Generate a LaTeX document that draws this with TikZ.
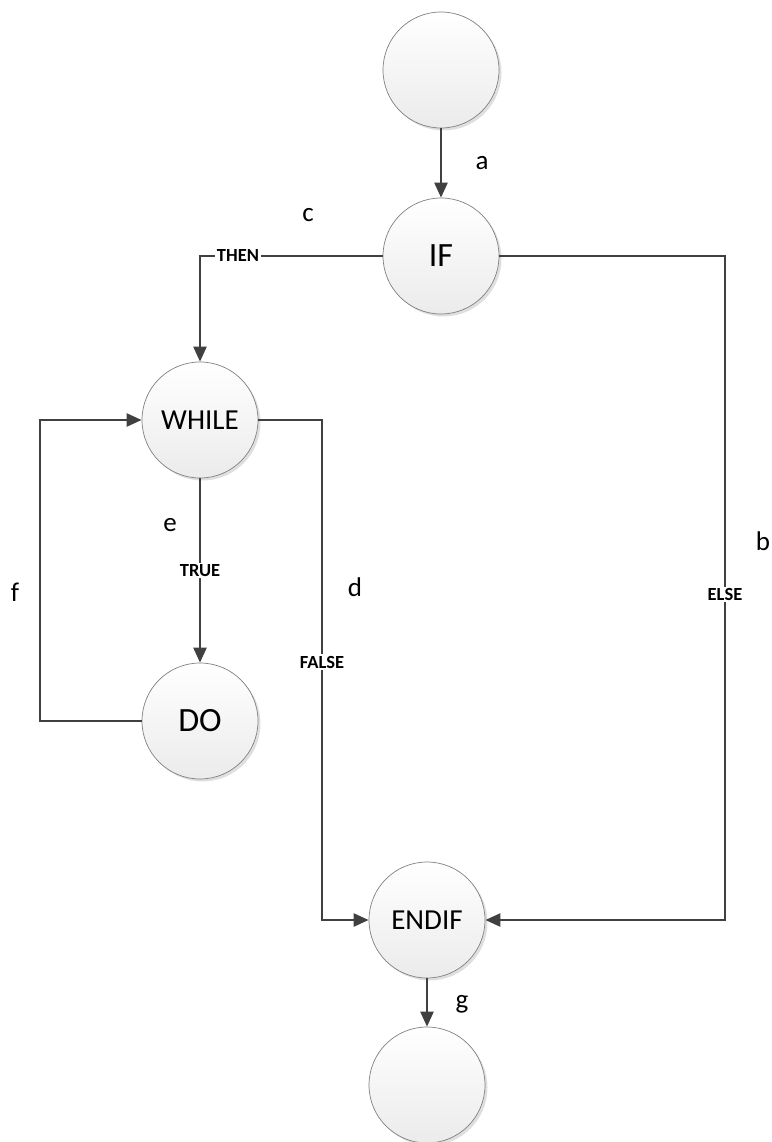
\documentclass[tikz,border=0pt]{standalone}
\usepackage{fontspec}
\setmainfont{Carlito}
\usetikzlibrary{arrows.meta,shadows}
\definecolor{linec}{HTML}{404040}
\definecolor{circc}{HTML}{808080}
\definecolor{fillb}{HTML}{EBEBEB}
\tikzset{
  state/.style={circle, minimum size=116pt, inner sep=0pt, draw=circc, line width=0.7pt,
    top color=white, bottom color=fillb,
    drop shadow={shadow xshift=2.5pt, shadow yshift=-2.5pt, opacity=0.25, fill=gray}},
  bigtxt/.style={font=\fontsize{34}{40}\selectfont},
  midtxt/.style={font=\fontsize{29}{34}\selectfont},
  conn/.style={draw=linec, line width=2.4pt, -{Triangle[length=15pt,width=13pt]}},
  plain/.style={draw=linec, line width=2.4pt},
  lab/.style={fill=white, inner sep=1.5pt, font=\fontsize{18.5}{22}\selectfont\bfseries},
  letter/.style={font=\fontsize{27}{32}\selectfont, inner sep=0pt}
}
\begin{document}
\begin{tikzpicture}[x=1pt,y=-1pt]
\useasboundingbox (0,0) rectangle (771,1142);
\node[state] (start) at (441,70) {};
\node[state, bigtxt] (if) at (441,256) {IF};
\node[state, midtxt] (while) at (200,420) {WHILE};
\node[state, bigtxt] (do) at (200,721) {DO};
\node[state, midtxt] (endif) at (427,920) {ENDIF};
\node[state] (stop) at (427,1085) {};

\coordinate (elsec) at (725,256);
\coordinate (falsec) at (322,420);
\coordinate (loopc) at (40,721);

\draw[conn] (start) -- (if);
\draw[conn] (if.west) -| node[lab, pos=0.396] {THEN} (while.north);
\draw[conn] (if.east) -- (elsec) |- node[lab, pos=0.255] {ELSE} (endif.east);
\draw[conn] (while.east) -- (falsec) |- node[lab, pos=0.242] {FALSE} (endif.west);
\draw[conn] (while.south) -- node[lab, pos=0.5] {TRUE} (do.north);
\draw[conn] (do.west) -- (loopc) |- (while.west);
\draw[conn] (endif) -- (stop);

\node[letter] (la) at (482,163) {a};
\node[letter] (lb) at (763,541) {b};
\node[letter] (lc) at (308,215) {c};
\node[letter] (ld) at (355,587) {d};
\node[letter] (le) at (170,525) {e};
\node[letter] (lf) at (15,592) {f};
\node[letter] (lg) at (462,1004) {g};
\end{tikzpicture}
\end{document}
